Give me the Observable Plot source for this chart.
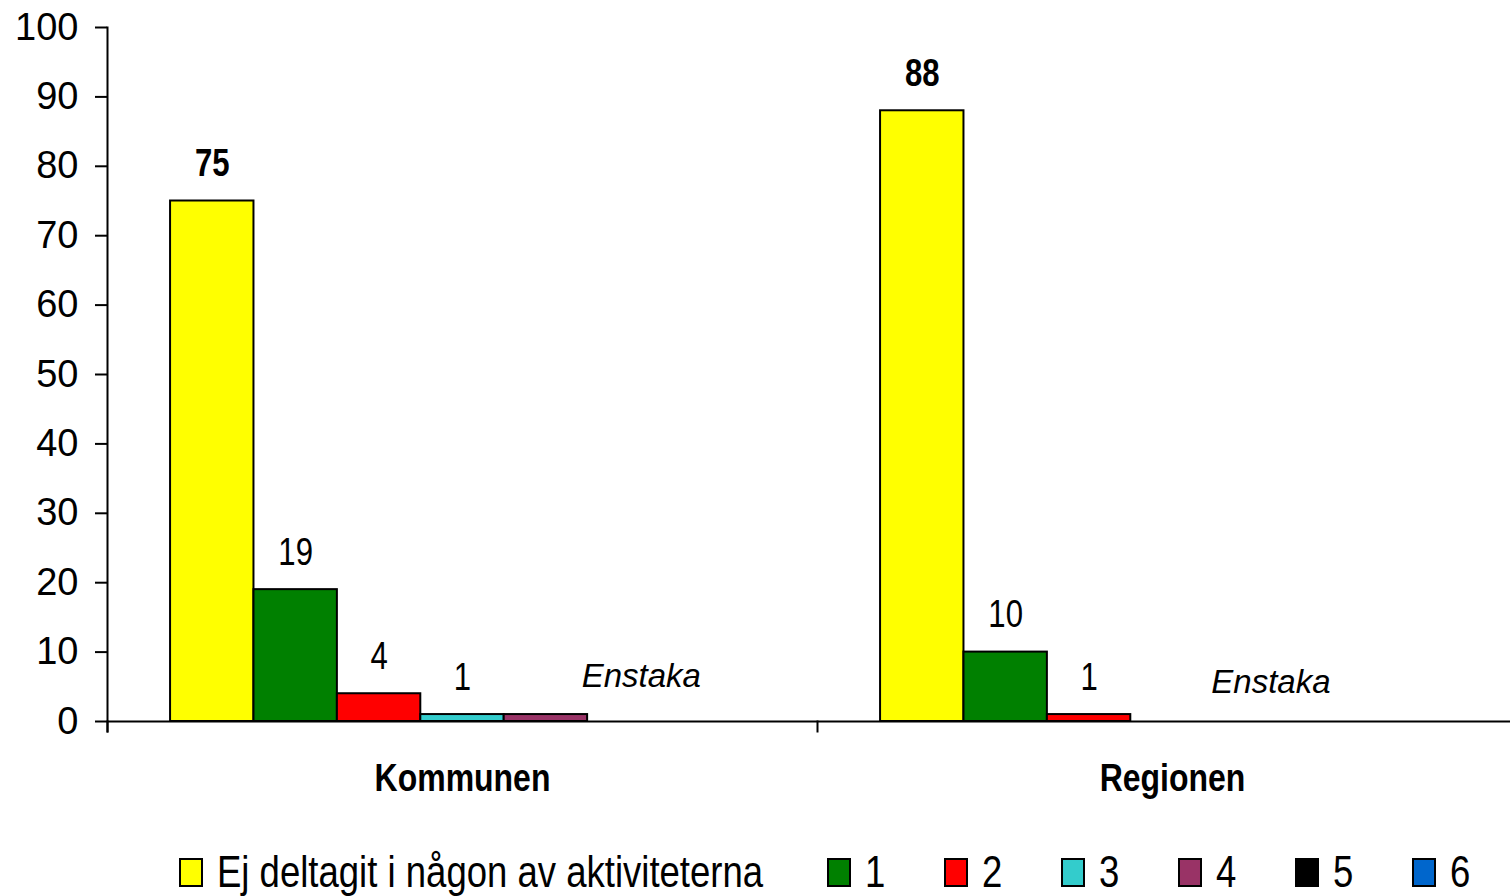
<!DOCTYPE html>
<html>
<head>
<meta charset="utf-8">
<script src="https://cdn.jsdelivr.net/npm/d3@7"></script>
<script src="https://cdn.jsdelivr.net/npm/@observablehq/plot@0.6"></script>
<style>
  html, body { margin: 0; padding: 0; background: #fff; }
  #wrap { position: relative; width: 1510px; height: 896px; overflow: hidden; }
  #chart { position: absolute; left: 0; top: 0; }
  .legend { position: absolute; top: 849px; display: flex; align-items: center;
    font-family: "Liberation Sans", Arial, sans-serif; font-size: 44px; color: #000; line-height: 46px; }
  .sw { width: 24px; height: 29px; box-sizing: border-box; border: 2px solid #000; margin-right: 14px; flex: none; }
  .item { display: flex; align-items: center; }
  .item span { display: inline-block; transform: scaleX(0.83); transform-origin: left center; white-space: nowrap; }
</style>
</head>
<body>
<div id="wrap">
  <div id="chart"></div>
  <div class="legend" id="legMain" style="left:179px"></div>
  <div class="legend" id="legNum" style="left:827px"></div>
</div>
<script>
// ---- data ----
const groups = ["Kommunen", "Regionen"];
const series = ["Ej deltagit i någon av aktiviteterna", "1", "2", "3", "4", "5", "6"];
const kommunenValues = [75, 19, 4, 1, 1, 0, 0];
const regionenValues = [88, 10, 1, 0, 0, 0, 0];
const kommunenLabels = ["75", "19", "4", "1", "", "", ""];
const regionenLabels = ["88", "10", "1", "", "", "", ""];
const seriesColors = ["#FFFF00", "#008000", "#FF0000", "#33CCCC", "#993366", "#000000", "#0066CC"];
const noteText = "Enstaka";
const noteSeries = ["5", "4"]; // series slot the note sits over, per group
const yTicks = [0, 10, 20, 30, 40, 50, 60, 70, 80, 90, 100];

// ---- table ----
const rows = [];
series.forEach((s, i) => {
  rows.push({group: "Kommunen", series: s, value: kommunenValues[i], label: kommunenLabels[i], first: i === 0});
  rows.push({group: "Regionen", series: s, value: regionenValues[i], label: regionenLabels[i], first: i === 0});
});
const bars = rows.filter(d => d.value > 0);
const labels = rows.filter(d => d.label !== "");
const notes = groups.map((g, i) => ({group: g, series: noteSeries[i], text: noteText}));

const font = "'Liberation Sans', Arial, sans-serif";

const chart = Plot.plot({
  width: 1527,
  height: 830,
  marginLeft: 107,
  marginRight: 0,
  marginTop: 27,
  marginBottom: 109,
  style: {background: "white", color: "black", overflow: "visible", maxWidth: "none"},
  fx: {domain: groups, padding: 0, axis: null, round: false},
  x: {domain: series, paddingInner: 0, paddingOuter: 0.756, axis: null, round: false},
  y: {domain: [0, 100], axis: null},
  color: {domain: series, range: seriesColors},
  marks: [
    Plot.barY(bars, {fx: "group", x: "series", y: "value", fill: "series", stroke: "black", strokeWidth: 2}),
    Plot.ruleY([0], {stroke: "black", strokeWidth: 2}),
    Plot.frame({anchor: "left", facetAnchor: "left", insetBottom: -10, stroke: "black", strokeWidth: 2}),
    Plot.frame({anchor: "left", insetTop: 694, insetBottom: -10, stroke: "black", strokeWidth: 2}),
    Plot.axisY({ticks: yTicks, tickSize: 12, tickPadding: 17, fontSize: 38, fontFamily: font, strokeWidth: 2, label: null, tickFormat: d => String(d)}),
    Plot.text(labels.filter(d => d.first), {fx: "group", x: "series", y: "value", text: "label", lineAnchor: "bottom", dy: -25, fontSize: 38, fontWeight: "bold", fontFamily: font, fill: "black", className: "narrow"}),
    Plot.text(labels.filter(d => !d.first), {fx: "group", x: "series", y: "value", text: "label", lineAnchor: "bottom", dy: -25, fontSize: 38, fontFamily: font, fill: "black", className: "narrow"}),
    Plot.text(notes.slice(0, 1), {fx: "group", x: "series", y: () => 0, text: "text", lineAnchor: "bottom", dx: 12, dy: -35, fontSize: 33, fontStyle: "italic", fontFamily: font, fill: "black"}),
    Plot.text(notes.slice(1), {fx: "group", x: "series", y: () => 0, text: "text", lineAnchor: "bottom", dx: 15, dy: -29, fontSize: 33, fontStyle: "italic", fontFamily: font, fill: "black"}),
    Plot.text(groups, {fx: d => d, text: d => d, frameAnchor: "bottom", lineAnchor: "middle", dy: 57, fontSize: 39, fontWeight: "bold", fontFamily: font, fill: "black", className: "narrow"})
  ]
});
// condense the Excel-like narrow labels horizontally
chart.querySelectorAll(".narrow text").forEach(t => {
  const tr = t.getAttribute("transform") || "";
  t.setAttribute("transform", (tr + " scale(0.82,1)").trim());
});
document.getElementById("chart").appendChild(chart);

// ---- legend ----
function addItem(container, name, color, width) {
  const it = document.createElement("div");
  it.className = "item";
  if (width) it.style.width = width + "px";
  const sw = document.createElement("div");
  sw.className = "sw";
  sw.style.background = color;
  const tx = document.createElement("span");
  tx.textContent = name;
  it.appendChild(sw);
  it.appendChild(tx);
  container.appendChild(it);
}
addItem(document.getElementById("legMain"), series[0], seriesColors[0]);
series.slice(1).forEach((s, i) => addItem(document.getElementById("legNum"), s, seriesColors[i + 1], 117));
</script>
</body>
</html>
